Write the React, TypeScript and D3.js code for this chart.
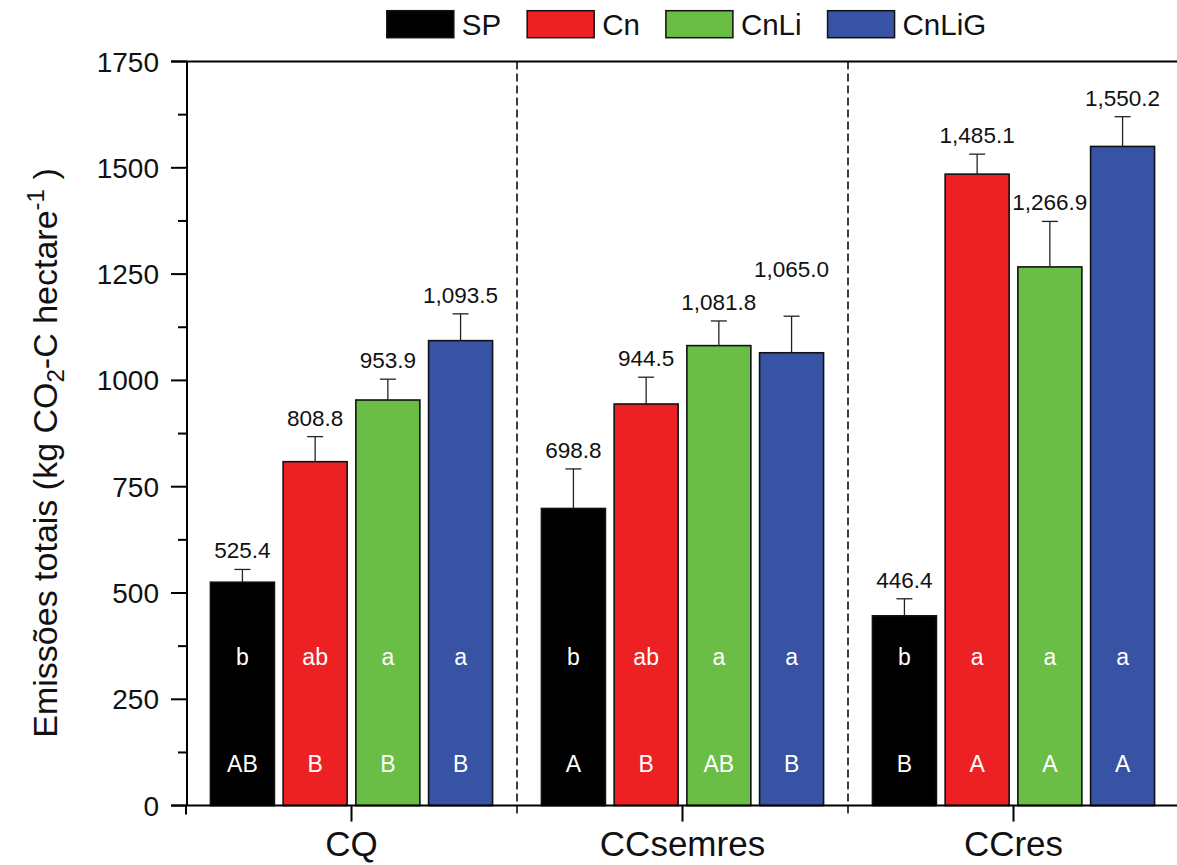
import { useEffect, useRef } from 'react';
import * as d3 from 'd3';

// categories and series
const CATEGORIES = ['CQ', 'CCsemres', 'CCres'];
const SERIES = ['SP', 'Cn', 'CnLi', 'CnLiG'];
const COLORS = ['#000000', '#ED2024', '#6ABD45', '#3953A4'];

// mean totals per series (one per category)
const SP_VALUES = [525.4, 698.8, 446.4];
const CN_VALUES = [808.8, 944.5, 1485.1];
const CNLI_VALUES = [953.9, 1081.8, 1266.9];
const CNLIG_VALUES = [1093.5, 1065.0, 1550.2];

// error bar (upper) sizes
const SP_ERR = [30, 93, 40];
const CN_ERR = [59, 63, 47];
const CNLI_ERR = [49, 58, 107];
const CNLIG_ERR = [63, 86, 70];

// significance letters
const SP_LOWER = ['b', 'b', 'b'];
const CN_LOWER = ['ab', 'ab', 'a'];
const CNLI_LOWER = ['a', 'a', 'a'];
const CNLIG_LOWER = ['a', 'a', 'a'];
const SP_UPPER = ['AB', 'A', 'B'];
const CN_UPPER = ['B', 'B', 'A'];
const CNLI_UPPER = ['B', 'AB', 'A'];
const CNLIG_UPPER = ['B', 'B', 'A'];

const Y_TICKS = [0, 250, 500, 750, 1000, 1250, 1500, 1750];

const VALUES = [SP_VALUES, CN_VALUES, CNLI_VALUES, CNLIG_VALUES];
const ERRORS = [SP_ERR, CN_ERR, CNLI_ERR, CNLIG_ERR];
const LOWER = [SP_LOWER, CN_LOWER, CNLI_LOWER, CNLIG_LOWER];
const UPPER = [SP_UPPER, CN_UPPER, CNLI_UPPER, CNLIG_UPPER];

const WIDTH = 1177;
const HEIGHT = 865;
const FONT = '"Liberation Sans", Arial, Helvetica, sans-serif';

export default function App() {
    const svgRef = useRef<SVGSVGElement | null>(null);

    useEffect(() => {
        const svg = d3.select(svgRef.current);
        svg.selectAll('*').remove();

        const left = 186;
        const top = 61.5;
        const bottom = 805.6;
        const bandW = 331;

        const x = d3.scaleBand<string>()
            .domain(CATEGORIES)
            .range([left, left + bandW * CATEGORIES.length])
            .padding(0);

        const xs = d3.scaleBand<string>()
            .domain(SERIES)
            .range([0, x.bandwidth()])
            .paddingInner(0.12)
            .paddingOuter(0.336);

        const y = d3.scaleLinear().domain([0, 1750]).range([bottom, top]);

        const rows = CATEGORIES.flatMap((cat, ci) =>
            SERIES.map((s, si) => ({
                cat, s, si,
                value: VALUES[si][ci],
                err: ERRORS[si][ci],
                lower: LOWER[si][ci],
                upper: UPPER[si][ci],
            }))
        );
        const cx = (d: { cat: string; s: string }) => x(d.cat)! + xs(d.s)! + xs.bandwidth() / 2;

        const g = svg.append('g').style('font-family', FONT);

        // dashed separators between groups
        CATEGORIES.slice(1).forEach(cat => {
            g.append('line')
                .attr('x1', x(cat)!).attr('x2', x(cat)!)
                .attr('y1', top).attr('y2', bottom + 10)
                .attr('stroke', '#000')
                .attr('stroke-width', 1.5)
                .attr('stroke-dasharray', '8,4');
        });

        // bars
        g.selectAll('.bar')
            .data(rows)
            .enter()
            .append('rect')
            .attr('x', d => x(d.cat)! + xs(d.s)!)
            .attr('width', xs.bandwidth())
            .attr('y', d => y(d.value))
            .attr('height', d => bottom - y(d.value))
            .attr('fill', d => COLORS[d.si])
            .attr('stroke', '#111')
            .attr('stroke-width', 1.6);

        // error bars
        const eb = g.selectAll('.err').data(rows).enter().append('g');
        eb.append('line')
            .attr('x1', cx).attr('x2', cx)
            .attr('y1', d => y(d.value))
            .attr('y2', d => y(d.value + d.err))
            .attr('stroke', '#222')
            .attr('stroke-width', 1.3);
        eb.append('line')
            .attr('x1', d => cx(d) - 8)
            .attr('x2', d => cx(d) + 8)
            .attr('y1', d => y(d.value + d.err))
            .attr('y2', d => y(d.value + d.err))
            .attr('stroke', '#222')
            .attr('stroke-width', 1.3);

        // value labels, lifted when they would crowd the previous label
        const fmt = d3.format(',.1f');
        const labels = g.selectAll('.val')
            .data(rows)
            .enter()
            .append('text')
            .attr('x', cx)
            .attr('y', d => y(d.value + d.err) - 11)
            .attr('text-anchor', 'middle')
            .style('font-size', '22.5px')
            .style('fill', '#111')
            .text(d => fmt(d.value));
        const nodes = labels.nodes() as SVGTextElement[];
        for (let i = 1; i < nodes.length; i++) {
            if (rows[i].cat !== rows[i - 1].cat) continue;
            const a = nodes[i - 1].getBBox();
            const b = nodes[i].getBBox();
            const hGap = b.x - (a.x + a.width);
            const vDiff = Math.abs(a.y - b.y);
            if (hGap < 12 && vDiff < a.height) {
                nodes[i].setAttribute('y', String(+nodes[i].getAttribute('y')! - 28));
            }
        }

        // letters inside bars
        g.selectAll('.low')
            .data(rows)
            .enter()
            .append('text')
            .attr('x', cx)
            .attr('y', y(330))
            .attr('text-anchor', 'middle')
            .style('font-size', '23px')
            .style('fill', '#fff')
            .text(d => d.lower);
        g.selectAll('.up')
            .data(rows)
            .enter()
            .append('text')
            .attr('x', cx)
            .attr('y', y(80))
            .attr('text-anchor', 'middle')
            .style('font-size', '23px')
            .style('fill', '#fff')
            .text(d => d.upper);

        // frame: top line and bottom axis line
        g.append('line')
            .attr('x1', left - 15).attr('x2', WIDTH)
            .attr('y1', top).attr('y2', top)
            .attr('stroke', '#000').attr('stroke-width', 2);
        g.append('line')
            .attr('x1', left - 15).attr('x2', WIDTH)
            .attr('y1', bottom).attr('y2', bottom)
            .attr('stroke', '#000').attr('stroke-width', 2);

        // y axis
        const yAxis = g.append('g').attr('transform', `translate(${left + 1},0)`);
        yAxis.append('line')
            .attr('x1', 0).attr('x2', 0)
            .attr('y1', top).attr('y2', bottom)
            .attr('stroke', '#000').attr('stroke-width', 2);
        Y_TICKS.forEach(t => {
            yAxis.append('line')
                .attr('x1', -16).attr('x2', 0)
                .attr('y1', y(t)).attr('y2', y(t))
                .attr('stroke', '#000').attr('stroke-width', 2);
            yAxis.append('text')
                .attr('x', -28)
                .attr('y', y(t))
                .attr('dy', '0.36em')
                .attr('text-anchor', 'end')
                .style('font-size', '28px')
                .style('fill', '#111')
                .text(d3.format('d')(t));
        });
        d3.range(125, 1750, 250).forEach(t => {
            yAxis.append('line')
                .attr('x1', -9).attr('x2', 0)
                .attr('y1', y(t)).attr('y2', y(t))
                .attr('stroke', '#000').attr('stroke-width', 2);
        });

        // x axis ticks and category labels
        CATEGORIES.forEach((cat, i) => {
            const mx = x(cat)! + x.bandwidth() / 2;
            g.append('line')
                .attr('x1', mx).attr('x2', mx)
                .attr('y1', bottom).attr('y2', bottom + 16)
                .attr('stroke', '#000').attr('stroke-width', 2);
            g.append('text')
                .attr('x', mx)
                .attr('y', bottom + 50)
                .attr('text-anchor', 'middle')
                .style('font-size', '35px')
                .style('fill', '#111')
                .text(cat);
            if (i === 0) {
                g.append('line')
                    .attr('x1', x(cat)!).attr('x2', x(cat)!)
                    .attr('y1', bottom).attr('y2', bottom + 9)
                    .attr('stroke', '#000').attr('stroke-width', 2);
            }
        });

        // y axis title
        const title = g.append('text')
            .attr('transform', `translate(57, 453) rotate(-90)`)
            .attr('text-anchor', 'middle')
            .style('font-size', '34px')
            .style('fill', '#111');
        title.append('tspan').text('Emissões totais (kg CO');
        title.append('tspan').attr('baseline-shift', '-30%').style('font-size', '24px').text('2');
        title.append('tspan').text('-C hectare');
        title.append('tspan').attr('baseline-shift', '55%').style('font-size', '24px').text('-1');
        title.append('tspan').text(' )');

        // legend
        const legend = g.append('g');
        let lx = 0;
        SERIES.forEach((s, i) => {
            const item = legend.append('g').attr('transform', `translate(${lx},0)`);
            item.append('rect')
                .attr('x', 0).attr('y', 10.7)
                .attr('width', 67).attr('height', 27)
                .attr('fill', COLORS[i])
                .attr('stroke', '#111')
                .attr('stroke-width', 1.5);
            const t = item.append('text')
                .attr('x', 75)
                .attr('y', 34.5)
                .style('font-size', '29.5px')
                .style('fill', '#111')
                .text(s);
            const tw = (t.node() as SVGTextElement).getComputedTextLength();
            lx += 75 + tw + 26;
        });
        const legendW = lx - 26;
        const center = (left + left + bandW * CATEGORIES.length) / 2;
        legend.attr('transform', `translate(${center - legendW / 2 + 4},0)`);
    }, []);

    return (
        <div style={{ position: 'absolute', left: 0, top: 0, width: WIDTH, height: HEIGHT, background: '#fff' }}>
            <svg ref={svgRef} width={WIDTH} height={HEIGHT} />
        </div>
    );
}
